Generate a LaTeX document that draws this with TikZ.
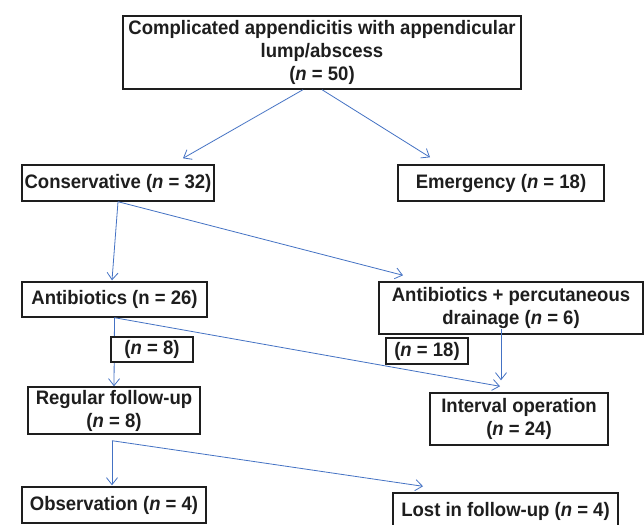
\documentclass[tikz,border=0pt]{standalone}
\usepackage{fontspec}
\setmainfont[FakeStretch=0.95]{Liberation Sans}
\usetikzlibrary{arrows.meta,calc}
\definecolor{arrowblue}{RGB}{68,114,196}
\definecolor{boxline}{RGB}{30,30,30}
\begin{document}
\begin{tikzpicture}[x=1pt,y=-1pt,
  box/.style={draw=boxline, line width=1.4pt, fill=white, inner sep=0pt, align=center,
    font=\bfseries\fontsize{19.5}{23}\selectfont, text=boxline},
  conn/.style={draw=arrowblue, line width=0.8pt, -{Straight Barb[length=7pt,width=11pt]}}]
\useasboundingbox (0,0) rectangle (644,524);
\fill[white] (0,0) rectangle (644,524);

\node[box, minimum width=398pt, minimum height=73pt] (root) at (322,52.5)
  {Complicated appendicitis with appendicular\\lump/abscess\\(\textit{n} = 50)};
\node[box, minimum width=192pt, minimum height=36pt] (cons) at (118,183)
  {Conservative (\textit{n} = 32)};
\node[box, minimum width=206pt, minimum height=36pt] (emer) at (501,183)
  {Emergency (\textit{n} = 18)};
\node[box, minimum width=185pt, minimum height=35pt] (anti) at (114.5,299.5)
  {Antibiotics (n = 26)};
\node[box, minimum width=264pt, minimum height=52pt] (perc) at (511,308)
  {Antibiotics + percutaneous\\drainage (\textit{n} = 6)};
\node[box, minimum width=172pt, minimum height=47pt] (reg) at (114,410.5)
  {Regular follow-up\\(\textit{n} = 8)};
\node[box, minimum width=178pt, minimum height=52pt] (inter) at (519,419)
  {Interval operation\\(\textit{n} = 24)};
\node[box, minimum width=184pt, minimum height=36pt] (obs) at (114,505)
  {Observation (\textit{n} = 4)};
\node[box, minimum width=225pt, minimum height=37pt] (lost) at (505.5,511.5)
  {Lost in follow-up (\textit{n} = 4)};

\coordinate (s1) at ([xshift=-19pt]root.south);
\coordinate (s2) at ([xshift=0pt]root.south);
\coordinate (e1) at ([xshift=65pt,yshift=6pt]cons.north);
\coordinate (e2) at ([xshift=-71pt,yshift=7pt]emer.north);
\coordinate (e3) at ([xshift=-2.5pt,yshift=1pt]anti.north);
\coordinate (e4) at ([xshift=-108pt,yshift=6pt]perc.north);
\coordinate (e5) at ([xshift=-19pt,yshift=6pt]inter.north);
\coordinate (s6) at ([xshift=-10pt,yshift=6pt]perc.south);
\coordinate (e6) at ([xshift=-18pt,yshift=12pt]inter.north);
\coordinate (s7) at ([xshift=-2pt,yshift=-6pt]reg.south);
\coordinate (e7) at ([xshift=-2pt,yshift=1pt]obs.north);
\coordinate (e8) at ([xshift=-82.5pt,yshift=6pt]lost.north);

\draw[conn] (s1) -- (e1);
\draw[conn] (s2) -- (e2);
\draw[conn] (cons.south) -- (e3);
\draw[conn] (cons.south) -- (e4);
\draw[conn] (anti.south) -- (reg.north);
\draw[conn] (anti.south) -- (e5);
\draw[conn] (s6) -- (e6);
\draw[conn] (s7) -- (e7);
\draw[conn] (s7) -- (e8);

\node[box, minimum width=82pt, minimum height=25pt] (n8) at (152,349.5)
  {(\textit{n} = 8)};
\node[box, minimum width=82pt, minimum height=26pt] (n18) at (427,351)
  {(\textit{n} = 18)};
\end{tikzpicture}
\end{document}
